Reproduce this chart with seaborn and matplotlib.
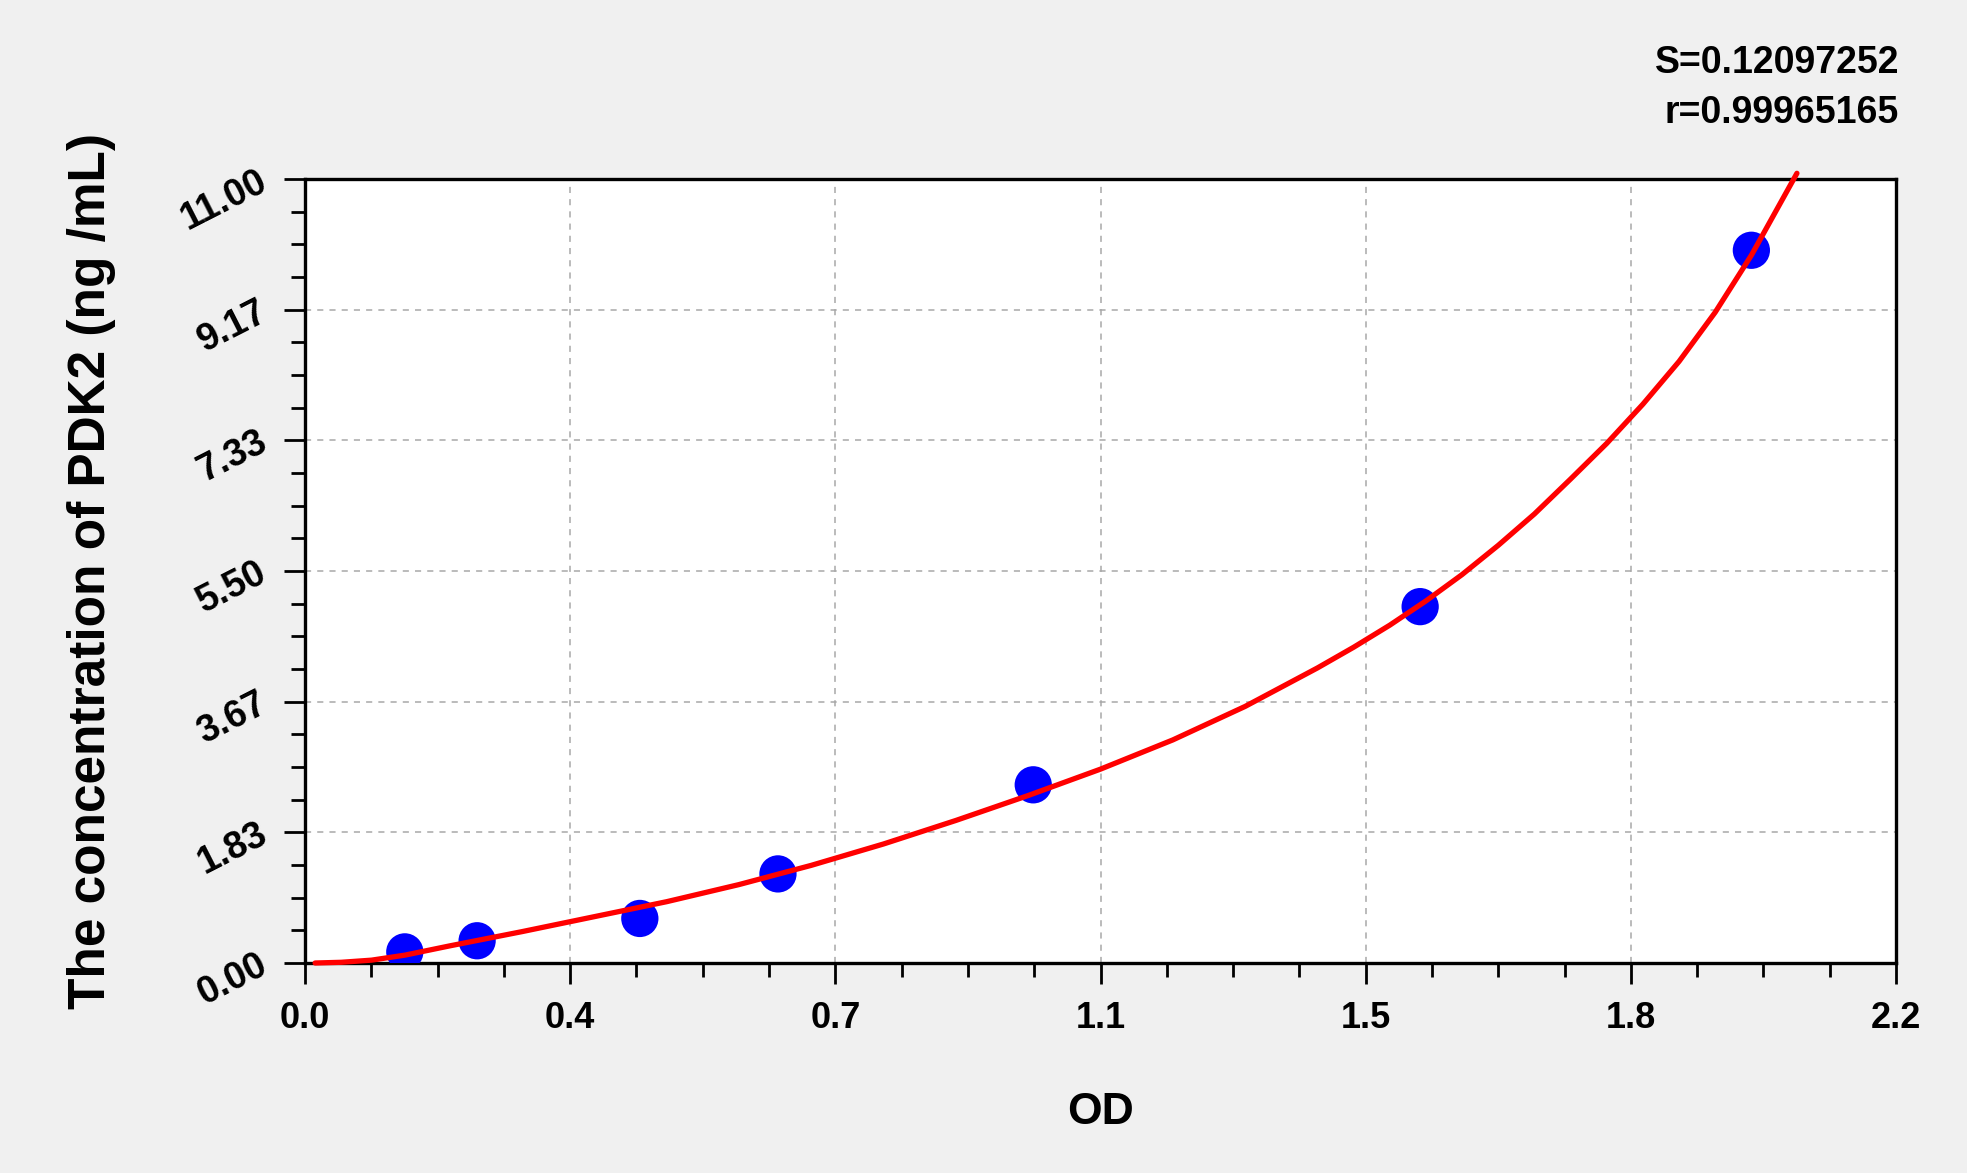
import numpy as np
import pandas as pd
import matplotlib
matplotlib.use("Agg")
import matplotlib.pyplot as plt
from matplotlib.ticker import FixedLocator, AutoMinorLocator, FuncFormatter
import seaborn as sns

# ---- data ----
od_points = [0.138, 0.238, 0.463, 0.654, 1.007, 1.542, 2.000]
conc_points = [0.156, 0.312, 0.625, 1.25, 2.5, 5.0, 10.0]

# fitted curve
curve_od = [0.014, 0.05, 0.092, 0.138, 0.2, 0.3, 0.4, 0.5, 0.6, 0.7, 0.8,
            0.9, 1.0, 1.1, 1.2, 1.3, 1.4, 1.45, 1.5, 1.55, 1.6, 1.65, 1.7,
            1.75, 1.8, 1.85, 1.9, 1.95, 2.0, 2.063]
curve_conc = [0.00, 0.01, 0.04, 0.11, 0.24, 0.44, 0.65, 0.86, 1.10, 1.37,
              1.67, 2.00, 2.35, 2.72, 3.13, 3.60, 4.14, 4.43, 4.74, 5.08,
              5.45, 5.86, 6.30, 6.79, 7.29, 7.84, 8.44, 9.13, 9.93, 11.08]

x_ticks = [0.0, 2.2 / 6, 4.4 / 6, 1.1, 8.8 / 6, 11.0 / 6, 2.2]
y_ticks = [0.0, 11 / 6, 22 / 6, 5.5, 44 / 6, 55 / 6, 11.0]
stats_lines = ["S=0.12097252", "r=0.99965165"]
x_label = "OD"
y_label = "The concentration of PDK2 (ng /mL)"

sns.set_style("white")
plt.rcParams['font.family'] = ['Liberation Sans', 'DejaVu Sans']
plt.rcParams['text.color'] = 'black'
plt.rcParams['axes.labelcolor'] = 'black'
plt.rcParams['xtick.color'] = 'black'
plt.rcParams['ytick.color'] = 'black'

fig = plt.figure(figsize=(19.67, 11.73), dpi=100, facecolor="#f0f0f0")
ax = fig.add_axes([305 / 1967, 1 - 963 / 1173, 1591 / 1967, 784 / 1173])
ax.set_facecolor("white")

pts = pd.DataFrame({"OD": od_points, "conc": conc_points})
crv = pd.DataFrame({"OD": curve_od, "conc": curve_conc})

sns.scatterplot(data=pts, x="OD", y="conc", ax=ax, s=720, color="#0000ff",
                edgecolor="none", zorder=3)
sns.lineplot(data=crv, x="OD", y="conc", ax=ax, sort=False, estimator=None,
             color="#ff0000", linewidth=3.8, zorder=4, clip_on=False)

ax.set_xlim(0, 2.2)
ax.set_ylim(0, 11)
ax.xaxis.set_major_locator(FixedLocator(x_ticks))
ax.yaxis.set_major_locator(FixedLocator(y_ticks))
ax.xaxis.set_minor_locator(AutoMinorLocator(4))
ax.yaxis.set_minor_locator(AutoMinorLocator(4))
ax.xaxis.set_major_formatter(FuncFormatter(lambda v, p: f"{v:.1f}"))
ax.yaxis.set_major_formatter(FuncFormatter(lambda v, p: f"{v:.2f}"))

ax.grid(True, which="major", color="#a8a8a8", linestyle=(0, (4, 4)), linewidth=1.1)
for s in ax.spines.values():
    s.set_color("black")
    s.set_linewidth(2.4)
    s.set_visible(True)

ax.tick_params(axis="both", which="major", direction="out", length=15, width=2,
               color="black", bottom=True, left=True, top=False, right=False)
ax.tick_params(axis="both", which="minor", direction="out", length=10, width=2,
               color="black", bottom=True, left=True, top=False, right=False)
ax.tick_params(axis="x", which="major", labelsize=26, pad=12, labelcolor="black")
ax.tick_params(axis="y", which="major", labelsize=27, pad=14, labelcolor="black")
for lab in ax.get_xticklabels():
    lab.set_fontweight("bold")
for lab in ax.get_yticklabels():
    lab.set_fontweight("bold")
    lab.set_rotation(27)
    lab.set_ha("right")
    lab.set_va("center")
    lab.set_rotation_mode("anchor")

ax.set_xlabel(x_label, fontsize=32, fontweight="bold", color="black")
ax.xaxis.set_label_coords(0.5, -0.165)
ax.set_ylabel(y_label, fontsize=37, fontweight="bold", color="black")
ax.yaxis.set_label_coords(-0.119, 0.5)

fig.text(1899 / 1967, 1 - 63 / 1173, stats_lines[0], ha="right", va="center",
         fontsize=27, fontweight="bold", color="black")
fig.text(1899 / 1967, 1 - 113 / 1173, stats_lines[1], ha="right", va="center",
         fontsize=27, fontweight="bold", color="black")

fig.savefig("out.png", dpi=100, facecolor=fig.get_facecolor())
